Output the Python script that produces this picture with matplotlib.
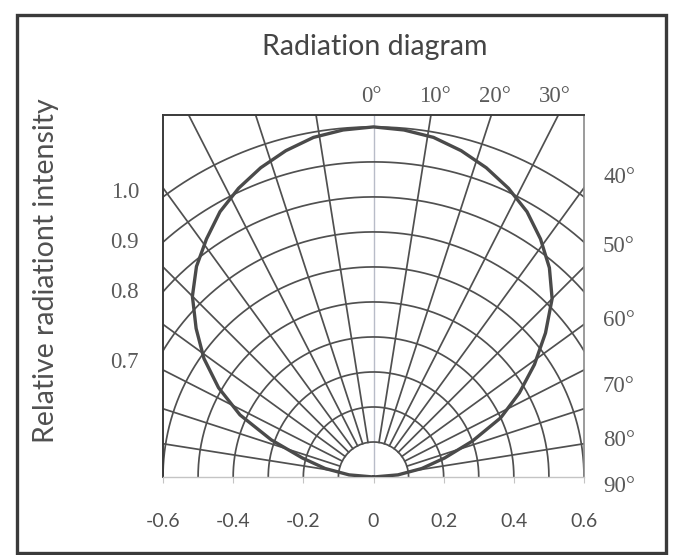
import numpy as np
import matplotlib
matplotlib.use("Agg")
import matplotlib.pyplot as plt
from matplotlib.patches import Rectangle

# ---- data ----
angles_deg = [-90, -85, -80, -75, -70, -65, -60, -55, -50, -45, -40, -35, -30, -25, -20, -15, -10, -5,
              0, 5, 10, 15, 20, 25, 30, 35, 40, 45, 50, 55, 60, 65, 70, 75, 80, 85, 90]
intensity = [0.0, 0.07, 0.14, 0.21, 0.31, 0.42, 0.51, 0.59, 0.66, 0.73, 0.785, 0.83, 0.875, 0.91, 0.94, 0.965, 0.985, 0.995,
             1.0, 0.995, 0.985, 0.965, 0.94, 0.91, 0.875, 0.83, 0.78, 0.72, 0.64, 0.56, 0.48, 0.40, 0.30, 0.21, 0.14, 0.07, 0.0]

grid_levels = [0.1, 0.2, 0.3, 0.4, 0.5, 0.6, 0.7, 0.8, 0.9, 1.0]
grid_ray_angles = [-81, -72, -63, -54, -45, -36, -27, -18, -9, 9, 18, 27, 36, 45, 54, 63, 72, 81]

x_ticks = [-0.6, -0.4, -0.2, 0.0, 0.2, 0.4, 0.6]
x_tick_labels = ["-0.6", "-0.4", "-0.2", "0", "0.2", "0.4", "0.6"]
intensity_labels = ["1.0", "0.9", "0.8", "0.7"]
top_angle_labels = ["0°", "10°", "20°", "30°"]
right_angle_labels = ["40°", "50°", "60°", "70°", "80°", "90°"]

title = "Radiation diagram"
ylabel = "Relative radiationt intensity"

# ---- layout ----
W, H = 682, 555
fig = plt.figure(figsize=(W / 100, H / 100), dpi=100)
fx = lambda px: px / W
fy = lambda py: 1 - py / H

L, R, T, B = 163, 584, 115, 477
ax = fig.add_axes([fx(L), fy(B), fx(R) - fx(L), fy(T) - fy(B)])
ax.set_xlim(-0.6, 0.6)
ax.set_ylim(0, 1.034)

grid_col = "#505050"
# concentric intensity circles
t = np.linspace(0, np.pi, 400)
for r in grid_levels:
    ax.plot(r * np.cos(t), r * np.sin(t), color=grid_col, lw=1.25, zorder=2)
# angle rays
r0 = grid_levels[0]
for a in grid_ray_angles:
    th = np.radians(a)
    ax.plot([r0 * np.sin(th), 2 * np.sin(th)], [r0 * np.cos(th), 2 * np.cos(th)],
            color=grid_col, lw=1.25, zorder=2)
# central axis
ax.axvline(0, color="#b8bcc8", lw=1.0, zorder=1)

# radiation pattern
th = np.radians(angles_deg)
I = np.array(intensity)
ax.plot(I * np.sin(th), I * np.cos(th), color="#4a4a4a", lw=2.4, zorder=3,
        solid_capstyle="round", solid_joinstyle="round")

# spines
ax.spines["top"].set_color("#3a3a3a"); ax.spines["top"].set_linewidth(1.4)
ax.spines["left"].set_color("#3a3a3a"); ax.spines["left"].set_linewidth(1.4)
ax.spines["right"].set_color("#8a8a8a"); ax.spines["right"].set_linewidth(1.2)
ax.spines["bottom"].set_color("#c4c4c4"); ax.spines["bottom"].set_linewidth(1.0)

ax.set_yticks([])
ax.set_xticks(x_ticks)
ax.set_xticklabels(x_tick_labels, family="Lato", fontsize=14, color="#505050")
ax.tick_params(axis="x", length=4, color="#c4c4c4", pad=22)

# title / y label
fig.text(fx(375), fy(47), title, family="Lato", fontsize=20.5, color="#454545",
         ha="center", va="center")
fig.text(fx(46), fy(271), ylabel, family="Lato", fontsize=20.5, color="#505050",
         ha="center", va="center", rotation=90)

serif = "Liberation Serif"
lab_col = "#5a5a5a"
for lab, py in zip(intensity_labels, [193, 243, 293, 363]):
    fig.text(fx(139), fy(py), lab, family=serif, fontsize=16.5, color=lab_col,
             ha="right", va="center")
for lab, px in zip(top_angle_labels, [371, 435, 495, 555]):
    fig.text(fx(px), fy(96), lab, family=serif, fontsize=16.5, color=lab_col,
             ha="center", va="center")
for lab, py in zip(right_angle_labels, [177, 247, 320, 386, 440, 487]):
    fig.text(fx(603), fy(py), lab, family=serif, fontsize=16.5, color=lab_col,
             ha="left", va="center")

# outer border
fig.patches.append(Rectangle((fx(17), fy(553)), fx(666) - fx(17), fy(15) - fy(553),
                             transform=fig.transFigure, fill=False,
                             edgecolor="#3a3a3a", lw=2.4))

fig.savefig("out.png", dpi=100, facecolor="white")
